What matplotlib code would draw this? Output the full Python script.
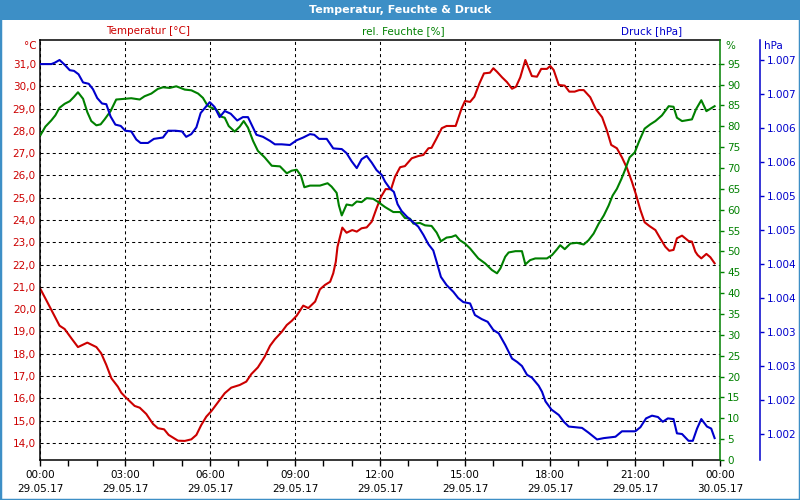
import matplotlib
matplotlib.use('Agg')
import matplotlib.pyplot as plt
from matplotlib.patches import Rectangle

plt.rcParams['font.family'] = ['DejaVu Sans']
plt.rcParams['lines.scale_dashes'] = False

# Zeit in Stunden ab 29.05.17 00:00
temp_t = [0.00, 0.22, 0.46, 0.69, 0.87, 1.11, 1.34, 1.67, 1.99, 2.16, 2.34, 2.52, 2.75, 2.87,
          3.02, 3.34, 3.52, 3.75, 3.99, 4.16, 4.38, 4.54, 4.87, 5.11, 5.34, 5.52, 5.69, 5.87,
          6.05, 6.28, 6.52, 6.75, 7.05, 7.28, 7.46, 7.69, 7.93, 8.12, 8.29, 8.53, 8.71, 8.88,
          9.06, 9.29, 9.47, 9.71, 9.88, 10.06, 10.24, 10.35, 10.44, 10.50, 10.67, 10.82, 11.02,
          11.18, 11.35, 11.53, 11.71, 11.88, 12.04, 12.20, 12.39, 12.53, 12.71, 12.88, 13.12,
          13.35, 13.53, 13.71, 13.82, 14.00, 14.18, 14.35, 14.67, 14.76, 14.88, 15.00, 15.18,
          15.33, 15.51, 15.67, 15.88, 16.00, 16.13, 16.31, 16.48, 16.66, 16.80, 16.95, 17.13,
          17.25, 17.36, 17.54, 17.69, 17.89, 18.01, 18.13, 18.31, 18.52, 18.68, 18.87, 19.03,
          19.19, 19.42, 19.62, 19.84, 20.01, 20.16, 20.36, 20.54, 20.72, 20.89, 21.04, 21.19,
          21.34, 21.51, 21.72, 21.89, 22.07, 22.21, 22.36, 22.48, 22.66, 22.89, 23.01, 23.13,
          23.21, 23.34, 23.52, 23.66, 23.81]
temp = [20.94, 20.41, 19.82, 19.26, 19.11, 18.69, 18.30, 18.50, 18.30, 18.02, 17.50, 16.90, 16.52, 16.25,
        16.05, 15.66, 15.58, 15.30, 14.85, 14.66, 14.61, 14.36, 14.10, 14.09, 14.16, 14.36, 14.80, 15.18,
        15.43, 15.82, 16.23, 16.48, 16.60, 16.75, 17.09, 17.39, 17.87, 18.36, 18.65, 18.98, 19.29, 19.47,
        19.71, 20.16, 20.05, 20.34, 20.89, 21.09, 21.23, 21.61, 22.13, 22.80, 23.66, 23.43, 23.55,
        23.48, 23.63, 23.67, 23.93, 24.53, 25.05, 25.39, 25.38, 25.94, 26.37, 26.42, 26.77,
        26.87, 26.92, 27.22, 27.24, 27.67, 28.12, 28.22, 28.22, 28.56, 29.01, 29.34, 29.30,
        29.53, 30.13, 30.58, 30.61, 30.81, 30.65, 30.40, 30.19, 29.89, 29.98, 30.40, 31.18,
        30.81, 30.46, 30.43, 30.78, 30.78, 30.91, 30.73, 30.06, 30.03, 29.76, 29.76, 29.83,
        29.83, 29.51, 28.97, 28.61, 28.01, 27.37, 27.22, 26.81, 26.32, 25.72, 25.12, 24.45,
        23.90, 23.73, 23.55, 23.18, 22.80, 22.62, 22.66, 23.18, 23.30, 23.06, 23.03, 22.58,
        22.43, 22.28, 22.48, 22.33, 22.06]

hum_t = [0.02, 0.19, 0.40, 0.54, 0.69, 0.87, 1.05, 1.20, 1.34, 1.52, 1.67, 1.81, 1.99, 2.14, 2.28,
         2.49, 2.69, 2.99, 3.22, 3.52, 3.69, 3.93, 4.16, 4.34, 4.58, 4.81, 5.11, 5.34, 5.58, 5.75,
         5.91, 6.05, 6.22, 6.40, 6.52, 6.66, 6.87, 7.05, 7.19, 7.34, 7.52, 7.69, 7.93, 8.18, 8.47,
         8.71, 8.88, 9.06, 9.21, 9.33, 9.53, 9.88, 10.15, 10.29, 10.47, 10.55, 10.65, 10.82, 11.02,
         11.18, 11.35, 11.53, 11.76, 11.94, 12.18, 12.47, 12.71, 12.88, 13.06, 13.18, 13.41, 13.59,
         13.82, 14.00, 14.15, 14.35, 14.53, 14.67, 14.82, 15.00, 15.18, 15.47, 15.71, 15.95, 16.13,
         16.25, 16.42, 16.54, 16.78, 17.01, 17.13, 17.30, 17.48, 17.89, 18.07, 18.25, 18.36, 18.52,
         18.72, 18.95, 19.19, 19.36, 19.54, 19.72, 19.90, 20.07, 20.21, 20.36, 20.52, 20.66, 20.81,
         20.99, 21.15, 21.34, 21.54, 21.72, 21.95, 22.19, 22.36, 22.48, 22.66, 23.01, 23.15, 23.34,
         23.52, 23.81]
hum = [77.93, 79.93, 81.43, 82.62, 84.45, 85.40, 86.02, 87.07, 88.17, 86.60, 83.40, 81.26, 80.24, 80.48, 81.67,
       83.64, 86.43, 86.60, 86.74, 86.43, 87.21, 87.86, 88.98, 89.36, 89.21, 89.60, 88.81, 88.64, 87.86, 86.83,
       85.00, 84.45, 84.05, 82.31, 82.07, 80.07, 78.74, 79.93, 81.26, 79.69, 76.50, 74.12, 72.55, 70.55, 70.40,
       68.74, 69.36, 69.60, 68.17, 65.40, 65.79, 65.79, 66.36, 65.55, 64.05, 61.02, 58.64, 61.26, 61.02,
       61.98, 61.83, 62.79, 62.62, 61.83, 60.64, 59.45, 59.45, 58.02, 57.86, 56.67, 56.83, 56.26,
       56.12, 54.52, 52.45, 53.33, 53.50, 53.88, 52.69, 51.90, 50.71, 48.33, 47.14, 45.55, 44.76,
       45.95, 48.74, 49.76, 50.07, 50.07, 46.90, 47.93, 48.33, 48.33, 49.12, 50.55, 51.50, 50.55,
       51.90, 52.07, 51.67, 52.69, 54.29, 56.67, 58.64, 61.02, 63.40, 65.00, 67.38, 69.76, 72.55,
       73.74, 76.50, 79.45, 80.48, 81.26, 82.62, 84.83, 84.69, 82.07, 81.26, 81.67, 84.05, 86.26,
       83.64, 84.83]

druck_t = [0.02, 0.40, 0.52, 0.69, 0.87, 1.05, 1.20, 1.36, 1.52, 1.72, 1.87, 2.02, 2.19, 2.34, 2.49,
           2.66, 2.85, 3.01, 3.22, 3.40, 3.55, 3.81, 4.02, 4.34, 4.52, 4.78, 5.01, 5.16, 5.34, 5.52,
           5.67, 5.81, 5.99, 6.16, 6.34, 6.52, 6.73, 6.96, 7.16, 7.34, 7.64, 7.87, 8.12, 8.29, 8.53,
           8.82, 9.06, 9.29, 9.53, 9.68, 9.85, 10.12, 10.35, 10.65, 10.82, 11.00, 11.18, 11.35, 11.53,
           11.71, 11.88, 12.06, 12.18, 12.35, 12.49, 12.62, 12.76, 12.94, 13.18, 13.35, 13.53, 13.71,
           13.88, 14.00, 14.15, 14.35, 14.59, 14.76, 14.94, 15.18, 15.35, 15.59, 15.80, 16.00, 16.19,
           16.42, 16.66, 16.84, 17.01, 17.19, 17.36, 17.60, 17.72, 17.84, 18.05, 18.31, 18.49, 18.66,
           19.13, 19.36, 19.66, 19.90, 20.31, 20.54, 21.01, 21.19, 21.39, 21.60, 21.81, 21.98, 22.16,
           22.36, 22.48, 22.66, 22.89, 23.04, 23.19, 23.34, 23.54, 23.69, 23.81]
druck = [1006.94, 1006.94, 1006.96, 1007.00, 1006.93, 1006.85, 1006.84, 1006.79, 1006.67, 1006.65, 1006.57,
         1006.44, 1006.36, 1006.35, 1006.17, 1006.05, 1006.03, 1005.96, 1005.95, 1005.83, 1005.78, 1005.78,
         1005.84, 1005.86, 1005.96, 1005.96, 1005.95, 1005.87, 1005.91, 1006.01, 1006.22, 1006.29, 1006.38,
         1006.31, 1006.16, 1006.25, 1006.21, 1006.11, 1006.16, 1006.16, 1005.90, 1005.87, 1005.81, 1005.76,
         1005.76, 1005.75, 1005.82, 1005.86, 1005.91, 1005.90, 1005.84, 1005.84, 1005.70, 1005.69, 1005.63,
         1005.51, 1005.41, 1005.54, 1005.59, 1005.49, 1005.38, 1005.31, 1005.21, 1005.11, 1005.06, 1004.88,
         1004.78, 1004.70, 1004.61, 1004.55, 1004.43, 1004.29, 1004.20, 1004.03, 1003.81, 1003.69, 1003.59,
         1003.50, 1003.44, 1003.42, 1003.25, 1003.19, 1003.15, 1003.03, 1002.98, 1002.81, 1002.61, 1002.56,
         1002.50, 1002.37, 1002.33, 1002.21, 1002.12, 1001.98, 1001.86, 1001.78, 1001.68, 1001.61, 1001.59,
         1001.52, 1001.42, 1001.44, 1001.46, 1001.54, 1001.54, 1001.60, 1001.73, 1001.77, 1001.75, 1001.68,
         1001.73, 1001.72, 1001.51, 1001.50, 1001.40, 1001.40, 1001.58, 1001.72, 1001.61, 1001.58, 1001.44]

x_ticks = [0, 3, 6, 9, 12, 15, 18, 21, 24]
x_labels = ['00:00\n29.05.17', '03:00\n29.05.17', '06:00\n29.05.17', '09:00\n29.05.17',
            '12:00\n29.05.17', '15:00\n29.05.17', '18:00\n29.05.17', '21:00\n29.05.17',
            '00:00\n30.05.17']
temp_ticks = list(range(14, 32))
temp_labels = [f'{v},0' for v in temp_ticks]
hum_ticks = list(range(0, 100, 5))
druck_ticks = [1007.0, 1006.5, 1006.0, 1005.5, 1005.0, 1004.5, 1004.0, 1003.5, 1003.0, 1002.5, 1002.0, 1001.5]
druck_labels = ['1.007', '1.007', '1.006', '1.006', '1.005', '1.005',
                '1.004', '1.004', '1.003', '1.003', '1.002', '1.002']

RED = '#cc0000'
GREEN = '#008000'
BLUE = '#0000cc'
FRAME = '#3d8fc6'
FS = 7.5

fig = plt.figure(figsize=(8, 5), dpi=100)
fig.patch.set_facecolor('white')

# Fensterrahmen mit Titelleiste
fig.patches.append(Rectangle((0, 0.96), 1, 0.04, transform=fig.transFigure,
                             facecolor=FRAME, edgecolor='none', zorder=0))
fig.patches.append(Rectangle((0, 0), 1, 1, transform=fig.transFigure, fill=False,
                             edgecolor=FRAME, linewidth=2.5, zorder=0))
fig.text(0.5, 1 - 10 / 500, 'Temperatur, Feuchte & Druck', color='white',
         fontweight='bold', fontsize=8, ha='center', va='center')

# Achsenbeschriftungen oben
fig.text(148 / 800, 1 - 31 / 500, 'Temperatur [°C]', color=RED, fontsize=FS, ha='center', va='center')
fig.text(403 / 800, 1 - 31 / 500, 'rel. Feuchte [%]', color=GREEN, fontsize=FS, ha='center', va='center')
fig.text(652 / 800, 1 - 31 / 500, 'Druck [hPa]', color=BLUE, fontsize=FS, ha='center', va='center')
fig.text(37 / 800, 1 - 46 / 500, '°C', color=RED, fontsize=FS, ha='right', va='center')
fig.text(725 / 800, 1 - 46 / 500, '%', color=GREEN, fontsize=FS, ha='left', va='center')
fig.text(764 / 800, 1 - 46 / 500, 'hPa', color=BLUE, fontsize=FS, ha='left', va='center')

ax1 = fig.add_axes([40 / 800, 40 / 500, 680 / 800, 420 / 500])
ax1.plot(temp_t, temp, color=RED, linewidth=1.5)
ax1.set_xlim(0, 24)
ax1.set_ylim(13.234, 32.077)
ax1.set_xticks(x_ticks)
ax1.set_xticklabels(x_labels, fontsize=FS, linespacing=1.55)
ax1.set_xticks(range(25), minor=True)
ax1.set_yticks(temp_ticks)
ax1.set_yticklabels(temp_labels, color=RED, fontsize=FS)
ax1.tick_params(axis='y', length=0, pad=3)
ax1.tick_params(axis='x', which='both', direction='out', length=4, width=1, pad=3)
ax1.grid(True, color='black', linestyle=(0, (2.2, 2.2)), linewidth=0.75)
ax1.spines['right'].set_visible(False)
for s in ax1.spines.values():
    s.set_linewidth(1.1)

# Feuchte
ax2 = ax1.twinx()
ax2.plot(hum_t, hum, color=GREEN, linewidth=1.5)
ax2.set_ylim(0, 100.7)
ax2.set_yticks(hum_ticks)
ax2.set_yticklabels([str(v) for v in hum_ticks], color=GREEN, fontsize=FS)
ax2.tick_params(axis='y', colors=GREEN, length=3, width=1, pad=2)
ax2.spines['right'].set_color(GREEN)
ax2.spines['right'].set_linewidth(1.1)
for s in ['left', 'top', 'bottom']:
    ax2.spines[s].set_visible(False)

# Druck
ax3 = ax1.twinx()
ax3.spines['right'].set_position(('axes', 1 + 40 / 680))
ax3.plot(druck_t, druck, color=BLUE, linewidth=1.5)
ax3.set_ylim(1001.118, 1007.294)
ax3.set_yticks(druck_ticks)
ax3.set_yticklabels(druck_labels, color=BLUE, fontsize=FS)
ax3.tick_params(axis='y', colors=BLUE, length=3, width=1, pad=2)
ax3.spines['right'].set_color(BLUE)
ax3.spines['right'].set_linewidth(1.1)
for s in ['left', 'top', 'bottom']:
    ax3.spines[s].set_visible(False)

fig.savefig('out.png', dpi=100)
